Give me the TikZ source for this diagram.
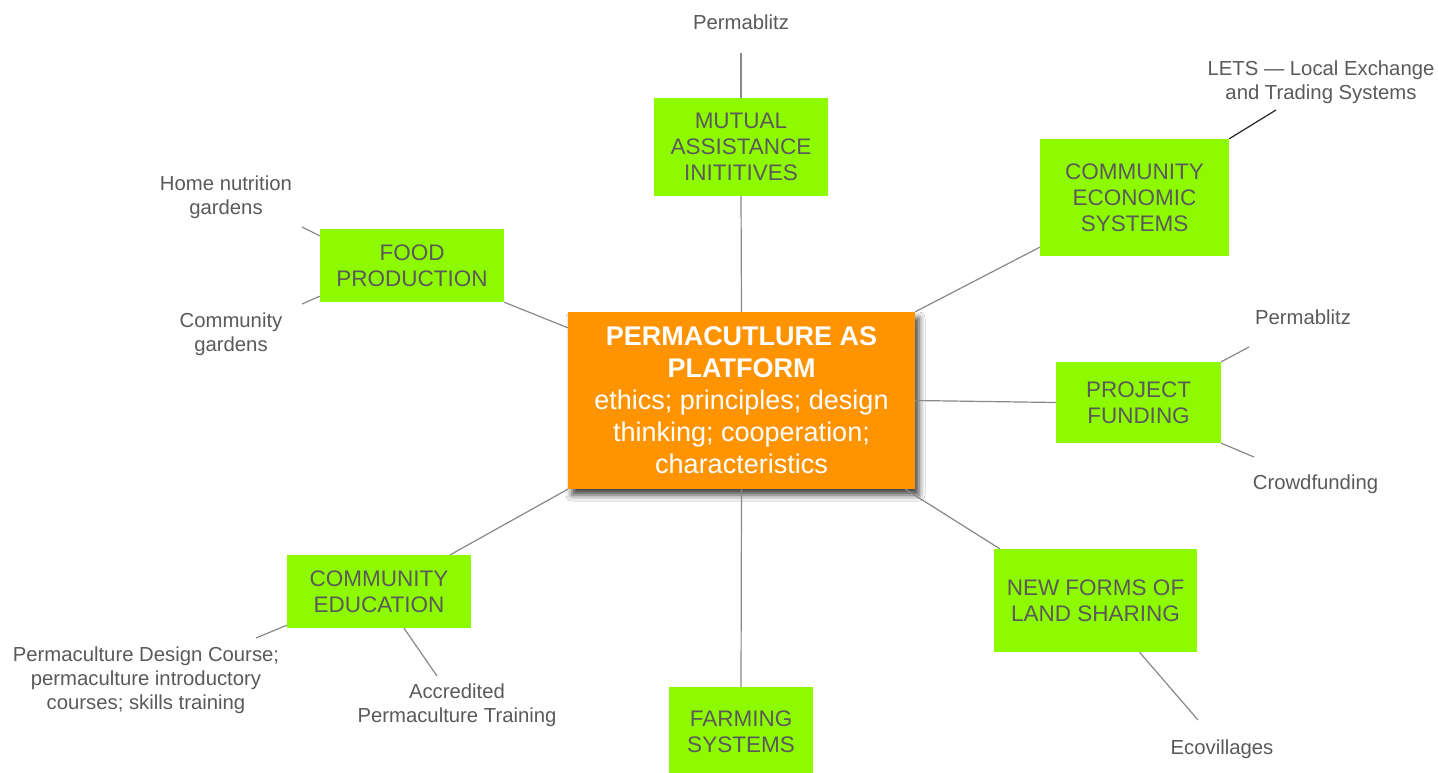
\documentclass[tikz,border=0pt]{standalone}
\usepackage{fontspec}
\setmainfont{Liberation Sans}
\usetikzlibrary{calc,shadows.blur}
\definecolor{boxgreen}{HTML}{8EFA00}
\definecolor{boxorange}{HTML}{FF9300}
\definecolor{txtgray}{HTML}{5A5A5A}
\definecolor{linegray}{HTML}{888888}
\tikzset{
  gbox/.style={fill=boxgreen, inner sep=0pt, align=center, text=txtgray,
    font=\fontsize{22.5}{26}\selectfont},
  cbox/.style={fill=boxorange, inner sep=0pt, align=center, text=white,
    minimum width=347pt, minimum height=177pt,
    blur shadow={shadow xshift=4pt, shadow yshift=-6pt, shadow blur radius=6pt, shadow opacity=75},
    font=\fontsize{27}{32}\selectfont},
  lbl/.style={inner sep=0pt, align=center, text=txtgray,
    font=\fontsize{20.3}{24}\selectfont},
  conn/.style={draw=linegray, line width=1.2pt},
  darkconn/.style={draw=black!85, line width=1.2pt}
}
\begin{document}
\begin{tikzpicture}[x=1pt,y=-1pt]
\useasboundingbox[fill=white] (0,0) rectangle (1438,773);

% label anchor coordinates
\coordinate (p1) at (741,53);
\coordinate (p2) at (1276,110);
\coordinate (p3) at (302,227);
\coordinate (p4) at (302,304);
\coordinate (p5) at (1249,347);
\coordinate (p6) at (1254,457);
\coordinate (p7) at (1198,720);
\coordinate (p8) at (256,638);
\coordinate (p9) at (437,676);

% boxes
\node[gbox, minimum width=174pt, minimum height=98pt] (mutual) at (741,147) {MUTUAL\\ASSISTANCE\\INITITIVES};
\node[gbox, minimum width=189pt, minimum height=117pt] (ces) at (1134.5,197.5) {COMMUNITY\\ECONOMIC\\SYSTEMS};
\node[gbox, minimum width=184pt, minimum height=73pt] (food) at (412,265.5) {FOOD\\PRODUCTION};
\node[gbox, minimum width=165pt, minimum height=81pt] (funding) at (1138.5,402.5) {PROJECT\\FUNDING};
\node[gbox, minimum width=203pt, minimum height=103pt] (land) at (1095.5,600.5) {NEW FORMS OF\\LAND SHARING};
\node[gbox, minimum width=144pt, minimum height=90pt] (farming) at (741,732) {FARMING\\SYSTEMS};
\node[gbox, minimum width=184pt, minimum height=73pt] (edu) at (379,591.5) {COMMUNITY\\EDUCATION};

% connectors from boxes to labels
\draw[conn] (mutual.north) -- (p1);
\draw[darkconn] (ces.north east) -- (p2);
\draw[conn] ($(food.north west)+(0,7)$) -- (p3);
\draw[conn] ($(food.south west)+(0,-6)$) -- (p4);
\draw[conn] (funding.north east) -- (p5);
\draw[conn] (funding.south east) -- (p6);
\draw[conn] ($(land.south)+(44,0)$) -- (p7);
\draw[conn] ($(edu.south west)+(0,-3)$) -- (p8);
\draw[conn] ($(edu.south)+(25,0)$) -- (p9);

% center box
\node[cbox] (c) at (741.5,400.5) {\textbf{PERMACUTLURE AS}\\\textbf{PLATFORM}\\ethics; principles; design\\thinking; cooperation;\\characteristics};

\draw[conn] (c.north) -- (mutual.south);
\draw[conn] (c.north east) -- ($(ces.south west)+(0,-9)$);
\draw[conn] ($(c.north west)+(0,16)$) -- (food.south east);
\draw[conn] (c.east) -- (funding.west);
\draw[conn] ($(c.south east)+(-10,0)$) -- ($(land.north west)+(6,0)$);
\draw[conn] (c.south) -- (farming.north);
\draw[conn] (c.south west) -- ($(edu.north east)+(-21,0)$);

% labels
\node[lbl] (l1) at (741,22) {Permablitz};
\node[lbl] (l2) at (1321,82.5) {LETS — Local Exchange\\and Trading Systems};
\node[lbl] (l3) at (226,197.5) {Home nutrition\\gardens};
\node[lbl] (l4) at (231,334.5) {Community\\gardens};
\node[lbl] (l5) at (1303,317.5) {Permablitz};
\node[lbl] (l6) at (1315.5,484.5) {Crowdfunding};
\node[lbl] (l7) at (1222,749.5) {Ecovillages};
\node[lbl] (l8) at (146,680.5) {Permaculture Design Course;\\permaculture introductory\\courses; skills training};
\node[lbl] (l9) at (457,705.5) {Accredited\\Permaculture Training};
\end{tikzpicture}
\end{document}
